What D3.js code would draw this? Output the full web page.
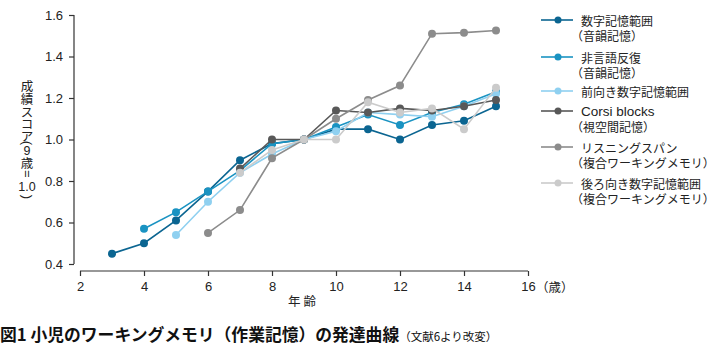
<!DOCTYPE html>
<html><head><meta charset="utf-8">
<script src="https://cdn.jsdelivr.net/npm/d3@7"></script>
<style>body{margin:0;background:#fff}svg{display:block}</style>
</head><body>
<svg id="c" width="720" height="350"></svg>
<script>
const ages = [3,4,5,6,7,8,9,10,11,12,13,14,15];
const s1 = [0.45,0.50,0.61,0.75,0.90,0.98,1.00,1.05,1.05,1.00,1.07,1.09,1.16];
const s2 = [null,0.57,0.65,0.75,0.85,0.98,1.00,1.06,1.12,1.07,1.13,1.17,1.23];
const s3 = [null,null,0.54,0.70,0.84,0.93,1.00,1.04,1.13,1.12,1.11,1.16,1.22];
const s4 = [null,null,null,null,0.86,1.00,1.00,1.14,1.13,1.15,1.14,1.16,1.19];
const s5 = [null,null,null,0.55,0.66,0.91,1.00,1.10,1.19,1.26,1.51,1.515,1.525];
const s6 = [null,null,null,null,0.84,0.95,1.00,1.00,1.18,1.13,1.15,1.05,1.25];
const seriesNames = [["数字記憶範囲","（音韻記憶）"],["非言語反復","（音韻記憶）"],["前向き数字記憶範囲"],["Corsi blocks","（視空間記憶）"],["リスニングスパン","（複合ワーキングメモリ）"],["後ろ向き数字記憶範囲","（複合ワーキングメモリ）"]];
const colors = ["#0b6591","#1a93c2","#8fd0f0","#585858","#8c8c8c","#cbcbcb"];
const xTicks = [2,4,6,8,10,12,14,16];
const yTicks = [0.4,0.6,0.8,1.0,1.2,1.4,1.6];
const yLabelGlyphs = ["成","績","ス","コ","ア","(","9","歳","=","1.0",")"];

const svg = d3.select("#c");
const x = d3.scaleLinear().domain([2,16]).range([80,528]);
const y = d3.scaleLinear().domain([0.4,1.6]).range([264,15]);
const font = "'Liberation Sans', Arial, sans-serif";
const jp = "'Noto Sans CJK JP', sans-serif";

// axes
const yAx = svg.append("g").attr("transform","translate(74,0)")
  .call(d3.axisLeft(y).tickValues(yTicks).tickFormat(d3.format(".1f")).tickSize(5).tickPadding(6));
const xAx = svg.append("g").attr("transform","translate(0,271)")
  .call(d3.axisBottom(x).tickValues(xTicks).tickFormat(d3.format("d")).tickSize(5).tickPadding(6));
[yAx,xAx].forEach(a=>{
  a.select(".domain").attr("stroke","#333").attr("stroke-width",1.2);
  a.selectAll(".tick line").attr("stroke","#333").attr("stroke-width",1.2);
  a.selectAll("text").attr("font-family",font).attr("font-size",13).attr("fill","#222");
});
yAx.select(".domain").attr("d",`M0,${y(1.6)}V${y(0.4)}`);
xAx.select(".domain").attr("d",`M${x(2)},0H${x(16)}`);

svg.append("text").attr("x",x(16)+8).attr("y",292).attr("font-family",jp).attr("font-size",12.5).attr("fill","#222").text("（歳）");
svg.append("text").attr("x",302).attr("y",306).attr("text-anchor","middle").attr("font-family",jp).attr("font-size",12.5).attr("fill","#222").text("年 齢");

// y label (vertical, glyph by glyph)
const yl = svg.append("g").attr("font-family",jp).attr("font-size",12.5).attr("fill","#222").attr("text-anchor","middle");
const ylY = [85,98,111,123,135,143,151,162,174,187,197];
yLabelGlyphs.forEach((g,i)=>{
  const t = yl.append("text").attr("x",27).attr("y",ylY[i]).attr("dominant-baseline","central").text(g);
  if(g==="="||g==="("||g===")") t.attr("transform",`rotate(90,27,${ylY[i]})`).attr("font-family",font);
  if(g==="("||g===")") t.attr("font-size",13);
  if(g==="1.0"||g==="9") t.attr("font-family",font).attr("font-size",12.5);
});

// lines
const all = [s1,s2,s3,s4,s5,s6];
const line = d3.line().defined(d=>d[1]!=null).x(d=>x(d[0])).y(d=>y(d[1]));
all.forEach((s,i)=>{
  const pts = ages.map((a,j)=>[a,s[j]]);
  const g = svg.append("g");
  g.append("path").attr("d",line(pts)).attr("fill","none").attr("stroke",colors[i]).attr("stroke-width",1.6);
  g.selectAll("circle").data(pts.filter(p=>p[1]!=null)).join("circle")
    .attr("cx",d=>x(d[0])).attr("cy",d=>y(d[1])).attr("r",4).attr("fill",colors[i]);
});

// legend
const legY = [20,57,91,111,147,183];
const lg = svg.append("g");
seriesNames.forEach((n,i)=>{
  const yy = legY[i];
  lg.append("line").attr("x1",541).attr("x2",573).attr("y1",yy).attr("y2",yy).attr("stroke",colors[i]).attr("stroke-width",1.6);
  lg.append("circle").attr("cx",558).attr("cy",yy).attr("r",3.5).attr("fill",colors[i]);
  n.forEach((t,k)=>{
    const paren = t.startsWith("（");
    lg.append("text").attr("x",paren?571:581).attr("y",yy+k*15.5).attr("dominant-baseline","central")
      .attr("font-family",t.startsWith("Corsi")?font:jp).attr("font-size",t.startsWith("Corsi")?13.5:12)
      .attr("fill","#222").text(t);
  });
});

// caption
const cap = svg.append("text").attr("x",0).attr("y",341).attr("fill","#111").attr("font-family",jp);
cap.append("tspan").attr("font-size",16.8).attr("font-weight","bold").text("図1 小児のワーキングメモリ（作業記憶）の発達曲線");
cap.append("tspan").attr("font-size",11.5).attr("dx",0).text("（文献6より改変）");
</script>
</body></html>
